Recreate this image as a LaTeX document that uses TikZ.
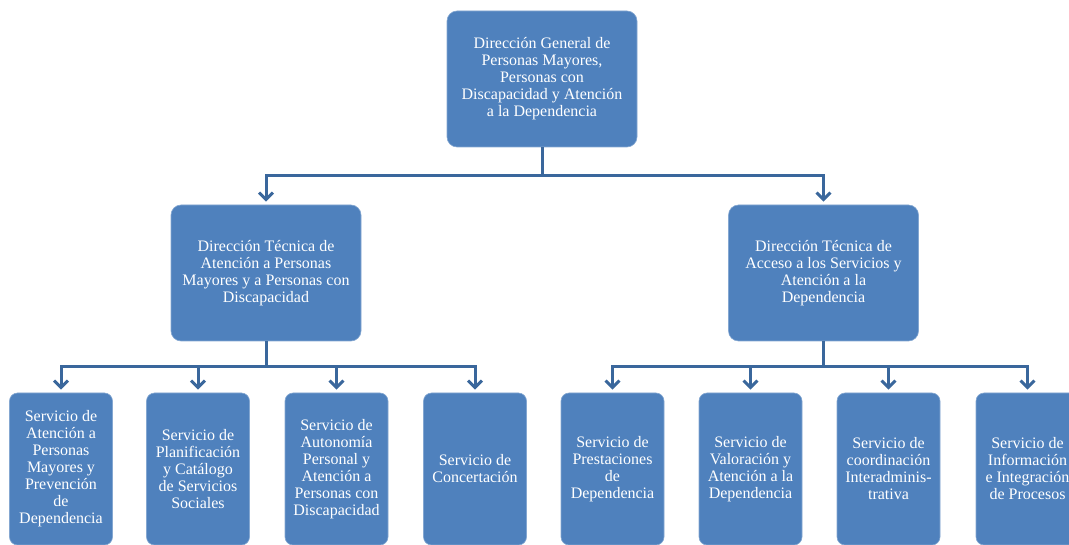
\documentclass[tikz,border=0pt]{standalone}
\usepackage{fontspec}
\setmainfont{Liberation Serif}
\usetikzlibrary{arrows.meta}
\definecolor{boxblue}{HTML}{4F81BD}
\definecolor{lineblue}{HTML}{3A679C}
\begin{document}
\begin{tikzpicture}[x=1pt,y=-1pt,
  box/.style={rectangle, rounded corners=10pt, fill=boxblue, draw=boxblue!70!white, line width=0.6pt,
    text=white, align=center, inner sep=2pt, font=\fontsize{16}{17}\selectfont},
  bigbox/.style={box, minimum width=190pt, minimum height=136pt},
  smallbox/.style={box, rounded corners=8pt, minimum width=103pt, minimum height=152pt},
  conn/.style={draw=lineblue, line width=3pt},
  arr/.style={conn, -{Straight Barb[length=7pt,width=14pt]}, shorten >=3pt}]
\useasboundingbox (0,0) rectangle (1069,545);
\clip (0,0) rectangle (1069,545);
\node[bigbox] (top) at (542,79) {Dirección General de\\Personas Mayores,\\Personas con\\Discapacidad y Atención\\a la Dependencia};
\node[bigbox] (ml) at (266,273) {Dirección Técnica de\\Atención a Personas\\Mayores y a Personas con\\Discapacidad};
\node[bigbox] (mr) at (823.5,273) {Dirección Técnica de\\Acceso a los Servicios y\\Atención a la\\Dependencia};
\node[smallbox] (b1) at (61,469) {Servicio de\\Atención a\\Personas\\Mayores y\\Prevención\\de\\Dependencia};
\node[smallbox] (b2) at (198,469) {Servicio de\\Planificación\\y Catálogo\\de Servicios\\Sociales};
\node[smallbox] (b3) at (336.5,469) {Servicio de\\Autonomía\\Personal y\\Atención a\\Personas con\\Discapacidad};
\node[smallbox] (b4) at (475,469) {Servicio de\\Concertación};
\node[smallbox] (b5) at (612.5,469) {Servicio de\\Prestaciones\\de\\Dependencia};
\node[smallbox] (b6) at (750.5,469) {Servicio de\\Valoración y\\Atención a la\\Dependencia};
\node[smallbox] (b7) at (888.5,469) {Servicio de\\coordinación\\Interadminis-\\trativa};
\node[smallbox] (b8) at (1027.5,469) {Servicio de\\Información\\e Integración\\de Procesos};
\coordinate (j0) at (542,176);
\coordinate (jl) at (266,367);
\coordinate (jr) at (823.5,367);
\draw[conn] (top.south) -- (j0);
\draw[arr] (j0) -| (ml.north);
\draw[arr] (j0) -| (mr.north);
\draw[conn] (ml.south) -- (jl);
\draw[conn] (mr.south) -- (jr);
\foreach \b in {b1,b2,b3,b4} \draw[arr] (jl) -| (\b.north);
\foreach \b in {b5,b6,b7,b8} \draw[arr] (jr) -| (\b.north);
\end{tikzpicture}
\end{document}
